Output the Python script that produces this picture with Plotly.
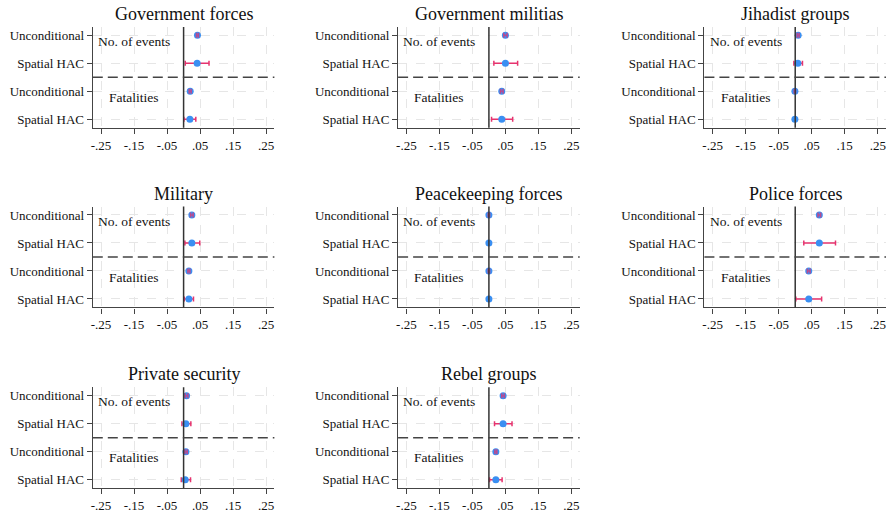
import plotly.graph_objects as go

W, H = 889, 513

panels = ["Government forces", "Government militias", "Jihadist groups",
          "Military", "Peacekeeping forces", "Police forces",
          "Private security", "Rebel groups"]

row_labels = ["Unconditional", "Spatial HAC", "Unconditional", "Spatial HAC"]
x_ticks = [-0.25, -0.15, -0.05, 0.05, 0.15, 0.25]
x_ticklabels = ["-.25", "-.15", "-.05", ".05", ".15", ".25"]

# Estimates per panel: [events uncond, events HAC, fatalities uncond, fatalities HAC]
est = {
    "Government forces":   [0.042, 0.041, 0.020, 0.019],
    "Government militias": [0.050, 0.050, 0.039, 0.039],
    "Jihadist groups":     [0.009, 0.008, -0.001, -0.001],
    "Military":            [0.025, 0.025, 0.016, 0.016],
    "Peacekeeping forces": [0.000, 0.000, 0.000, 0.000],
    "Police forces":       [0.073, 0.073, 0.041, 0.041],
    "Private security":    [0.009, 0.007, 0.007, 0.005],
    "Rebel groups":        [0.043, 0.043, 0.021, 0.021],
}
ci_low = {
    "Government forces":   [0.039, 0.005, 0.017, 0.001],
    "Government militias": [0.045, 0.015, 0.035, 0.008],
    "Jihadist groups":     [0.006, -0.004, -0.003, -0.002],
    "Military":            [0.021, 0.004, 0.013, 0.002],
    "Peacekeeping forces": [-0.002, -0.001, -0.002, -0.001],
    "Police forces":       [0.069, 0.026, 0.037, 0.002],
    "Private security":    [0.005, -0.005, 0.004, -0.007],
    "Rebel groups":        [0.039, 0.017, 0.018, 0.002],
}
ci_high = {
    "Government forces":   [0.045, 0.077, 0.023, 0.037],
    "Government militias": [0.055, 0.087, 0.043, 0.072],
    "Jihadist groups":     [0.012, 0.022, 0.001, 0.000],
    "Military":            [0.029, 0.049, 0.019, 0.030],
    "Peacekeeping forces": [0.002, 0.001, 0.002, 0.001],
    "Police forces":       [0.077, 0.122, 0.045, 0.080],
    "Private security":    [0.013, 0.022, 0.011, 0.021],
    "Rebel groups":        [0.047, 0.070, 0.024, 0.040],
}
group_labels = ["No. of events", "Fatalities"]

FONT = "Liberation Serif, Times New Roman, serif"
BLUE = "#3a8ff2"
RED = "#e6336e"

col_px = [(91, 273), (397, 579), (704, 886)]
row_px = [(27, 128), (207, 308), (388, 489)]

fig = go.Figure()
layout = dict(width=W, height=H, margin=dict(l=0, r=0, t=0, b=0),
              paper_bgcolor="white", plot_bgcolor="white", showlegend=False,
              font=dict(family=FONT, size=13, color="#111"))
shapes, annotations = [], []

for i, name in enumerate(panels):
    r, c = divmod(i, 3)
    k = "" if i == 0 else str(i + 1)
    xa, ya = "x" + k, "y" + k
    x0, x1 = col_px[c]
    y0, y1 = row_px[r]
    dom_x = [x0 / W, x1 / W]
    dom_y = [1 - y1 / H, 1 - y0 / H]
    axis_common = dict(showgrid=True, gridcolor="#e6e6e6", griddash="dash", gridwidth=1,
                       showline=True, linecolor="#444", linewidth=1.3, ticks="outside",
                       ticklen=5, tickcolor="#444", zeroline=False,
                       tickfont=dict(family=FONT, size=13, color="#111"))
    layout["xaxis" + k] = dict(domain=dom_x, range=[-0.275, 0.275], tickvals=x_ticks,
                               ticktext=x_ticklabels, anchor=ya, **axis_common)
    layout["yaxis" + k] = dict(domain=dom_y, range=[4.3, 0.7], tickvals=[1, 2, 3, 4],
                               ticktext=row_labels, anchor=xa, **axis_common)

    e = est[name]
    lo = ci_low[name]
    hi = ci_high[name]
    ys = [1, 2, 3, 4]
    # Spatial HAC: error bars under markers
    idx = [1, 3]
    fig.add_trace(go.Scatter(
        x=[e[j] for j in idx], y=[ys[j] for j in idx], mode="markers",
        marker=dict(color=BLUE, size=7),
        error_x=dict(type="data", symmetric=False,
                     array=[hi[j] - e[j] for j in idx],
                     arrayminus=[e[j] - lo[j] for j in idx],
                     color=RED, thickness=1.5, width=2.5),
        xaxis=xa, yaxis=ya))
    # Unconditional: markers, then error bars on top
    idx = [0, 2]
    fig.add_trace(go.Scatter(
        x=[e[j] for j in idx], y=[ys[j] for j in idx], mode="markers",
        marker=dict(color=BLUE, size=7), xaxis=xa, yaxis=ya))
    fig.add_trace(go.Scatter(
        x=[e[j] for j in idx], y=[ys[j] for j in idx], mode="markers",
        marker=dict(color="rgba(0,0,0,0)", size=1),
        error_x=dict(type="data", symmetric=False,
                     array=[hi[j] - e[j] for j in idx],
                     arrayminus=[e[j] - lo[j] for j in idx],
                     color="rgba(230,51,110,0.75)", thickness=1.5, width=2.5),
        xaxis=xa, yaxis=ya))

    # zero line
    shapes.append(dict(type="line", xref=xa, yref=ya + " domain", x0=0, x1=0, y0=0, y1=1,
                       line=dict(color="#333", width=1.5)))
    # separator dashed line
    shapes.append(dict(type="line", xref=xa + " domain", yref=ya, x0=0, x1=1, y0=2.5, y1=2.5,
                       line=dict(color="#444", width=1.5, dash="10px,5px")))
    # group labels
    for gl, gy in zip(group_labels, [1.22, 3.22]):
        annotations.append(dict(x=-0.15, y=gy, xref=xa, yref=ya, text=gl, showarrow=False,
                                font=dict(family=FONT, size=13.5, color="#111"),
                                xanchor="center", yanchor="middle"))
    # title
    annotations.append(dict(x=(x0 + x1) / 2 / W, y=1 - (y0 - 13) / H, xref="paper", yref="paper",
                            text=name, showarrow=False, xanchor="center", yanchor="middle",
                            font=dict(family=FONT, size=18, color="#111")))

layout["shapes"] = shapes
layout["annotations"] = annotations
fig.update_layout(**layout)
fig.write_html("out.html", config={"displayModeBar": False},
               post_script="document.body.style.margin='0';")
